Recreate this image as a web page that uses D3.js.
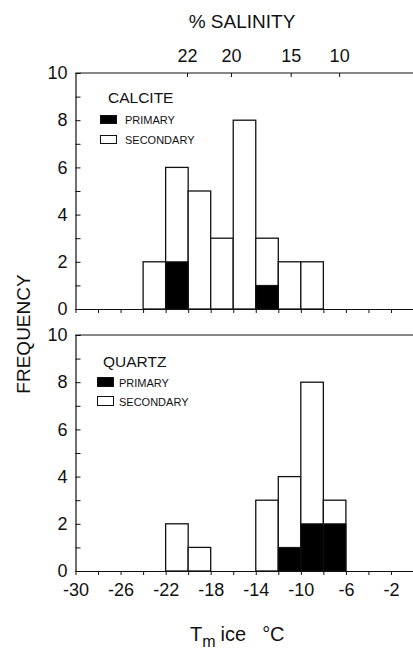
<!DOCTYPE html>
<html>
<head>
<meta charset="utf-8">
<script src="https://cdn.jsdelivr.net/npm/d3@7"></script>
<style>
  html, body { margin: 0; padding: 0; background: #fff; }
  svg { display: block; font-family: "Liberation Sans", Arial, Helvetica, sans-serif; }
</style>
</head>
<body>
<svg id="chart" width="413" height="652"></svg>
<script>
// Ice-melting temperature histograms (2 °C bins, value = left bin edge)
const calciteBins      = [-24, -22, -20, -18, -16, -14, -12, -10];
const calcitePrimary   = [  0,   2,   0,   0,   0,   1,   0,   0];
const calciteSecondary = [  2,   4,   5,   3,   8,   2,   2,   2];

const quartzBins       = [-22, -20, -14, -12, -10,  -8];
const quartzPrimary    = [  0,   0,   0,   1,   2,   2];
const quartzSecondary  = [  2,   1,   3,   3,   6,   1];

const binWidth = 2;

// Axis ticks
const tempTicks      = d3.range(-30, 1, 2);
const tempLabels     = [-30, -26, -22, -18, -14, -10, -6, -2];
const freqTicks      = d3.range(0, 11, 1);
const freqLabels     = [0, 2, 4, 6, 8, 10];
const salinityLabels = ["22", "20", "15", "10"];
const salinityTemps  = [-20.1, -16.2, -10.9, -6.6];

const svg = d3.select("#chart");
const ink = "#111";

const x = d3.scaleLinear().domain([-30, 0]).range([75.5, 413.5]);

const panels = [
  { name: "CALCITE", bins: calciteBins, primary: calcitePrimary, secondary: calciteSecondary,
    y: d3.scaleLinear().domain([0, 10]).range([309, 73]),
    legend: { tx: 108, ty: 103, fs: 15.5, bx: 100.5, by: 115.5, bw: 16, bh: 8, lx: 125, ly1: 123.5, ly2: 143.5, gap: 20, lfs: 11 } },
  { name: "QUARTZ", bins: quartzBins, primary: quartzPrimary, secondary: quartzSecondary,
    y: d3.scaleLinear().domain([0, 10]).range([571, 335]),
    legend: { tx: 103, ty: 367, fs: 15.5, bx: 97.5, by: 377.5, bw: 16, bh: 9, lx: 119, ly1: 387, ly2: 406, gap: 19, lfs: 11 } }
];

panels.forEach((p, pi) => {
  const g = svg.append("g");
  const y = p.y;

  // bars: outline = primary + secondary, filled part = primary
  const rows = p.bins.map((b, i) => ({ b, prim: p.primary[i], tot: p.primary[i] + p.secondary[i] }));

  g.selectAll("rect.tot").data(rows).join("rect")
    .attr("class", "tot")
    .attr("x", d => x(d.b))
    .attr("width", d => x(d.b + binWidth) - x(d.b))
    .attr("y", d => y(d.tot))
    .attr("height", d => y(0) - y(d.tot))
    .attr("fill", "#fff")
    .attr("stroke", ink)
    .attr("stroke-width", 1.3);

  g.selectAll("rect.prim").data(rows.filter(d => d.prim > 0)).join("rect")
    .attr("class", "prim")
    .attr("x", d => x(d.b))
    .attr("width", d => x(d.b + binWidth) - x(d.b))
    .attr("y", d => y(d.prim))
    .attr("height", d => y(0) - y(d.prim))
    .attr("fill", "#000")
    .attr("stroke", ink)
    .attr("stroke-width", 1);

  // top frame line
  g.append("line")
    .attr("x1", x(-30)).attr("x2", x(0))
    .attr("y1", y(10)).attr("y2", y(10))
    .attr("stroke", ink).attr("stroke-width", 1.2);

  // left axis, ticks pointing inward
  const yAxis = d3.axisLeft(y)
    .tickValues(freqTicks)
    .tickSize(-5)
    .tickPadding(8)
    .tickFormat(d => freqLabels.includes(d) ? String(d) : "");
  const ya = g.append("g").attr("transform", `translate(${x(-30)},0)`).call(yAxis);
  ya.select(".domain").attr("stroke", ink).attr("stroke-width", 1.2);
  ya.selectAll(".tick line").attr("stroke", ink).attr("stroke-width", 1);
  ya.selectAll(".tick text").attr("font-size", 18).attr("fill", ink)
    .attr("font-family", "Liberation Sans, Arial, sans-serif");

  // bottom axis, ticks pointing outward
  const xAxis = d3.axisBottom(x)
    .tickValues(tempTicks)
    .tickSize(4)
    .tickPadding(8)
    .tickSizeOuter(0)
    .tickFormat(d => (pi === 1 && tempLabels.includes(d)) ? String(d) : "");
  const xa = g.append("g").attr("transform", `translate(0,${y(0)})`).call(xAxis);
  xa.select(".domain").attr("stroke", ink).attr("stroke-width", 1.2);
  xa.selectAll(".tick line").attr("stroke", ink).attr("stroke-width", 1);
  xa.selectAll(".tick text").attr("font-size", 18).attr("fill", ink)
    .attr("font-family", "Liberation Sans, Arial, sans-serif");

  // panel title and legend
  const L = p.legend;
  g.append("text").attr("x", L.tx).attr("y", L.ty)
    .attr("font-size", L.fs).attr("fill", ink).text(p.name);
  g.append("rect").attr("x", L.bx).attr("y", L.by).attr("width", L.bw).attr("height", L.bh)
    .attr("fill", "#000").attr("stroke", ink);
  g.append("rect").attr("x", L.bx).attr("y", L.by + L.gap).attr("width", L.bw).attr("height", L.bh)
    .attr("fill", "#fff").attr("stroke", ink).attr("stroke-width", 1);
  g.append("text").attr("x", L.lx).attr("y", L.ly1)
    .attr("font-size", L.lfs).attr("fill", ink).text("PRIMARY");
  g.append("text").attr("x", L.lx).attr("y", L.ly2)
    .attr("font-size", L.lfs).attr("fill", ink).text("SECONDARY");

  // salinity scale along the top of the upper panel
  if (pi === 0) {
    const sal = d3.scaleOrdinal().domain(salinityLabels).range(salinityTemps.map(t => x(t)));
    const sAxis = d3.axisTop(sal).tickSize(-4).tickPadding(11).tickSizeOuter(0);
    const sa = g.append("g").attr("transform", `translate(0,${y(10)})`).call(sAxis);
    sa.select(".domain").remove();
    sa.selectAll(".tick line").attr("stroke", ink).attr("stroke-width", 1);
    sa.selectAll(".tick text").attr("font-size", 18).attr("fill", ink)
      .attr("font-family", "Liberation Sans, Arial, sans-serif");
  }
});

// axis titles
svg.append("text")
  .attr("x", 242).attr("y", 28)
  .attr("text-anchor", "middle")
  .attr("font-size", 19).attr("fill", ink)
  .text("% SALINITY");

svg.append("text")
  .attr("transform", "translate(30,334) rotate(-90)")
  .attr("text-anchor", "middle")
  .attr("font-size", 19).attr("fill", ink)
  .text("FREQUENCY");

const xt = svg.append("text")
  .attr("x", 190).attr("y", 641)
  .attr("font-size", 20).attr("fill", ink);
xt.append("tspan").text("T");
xt.append("tspan").attr("dy", 6).attr("font-size", 16).text("m");
xt.append("tspan").attr("dy", -6).attr("dx", 5).text("ice");
xt.append("tspan").attr("dx", 16).text("°C");
</script>
</body>
</html>
